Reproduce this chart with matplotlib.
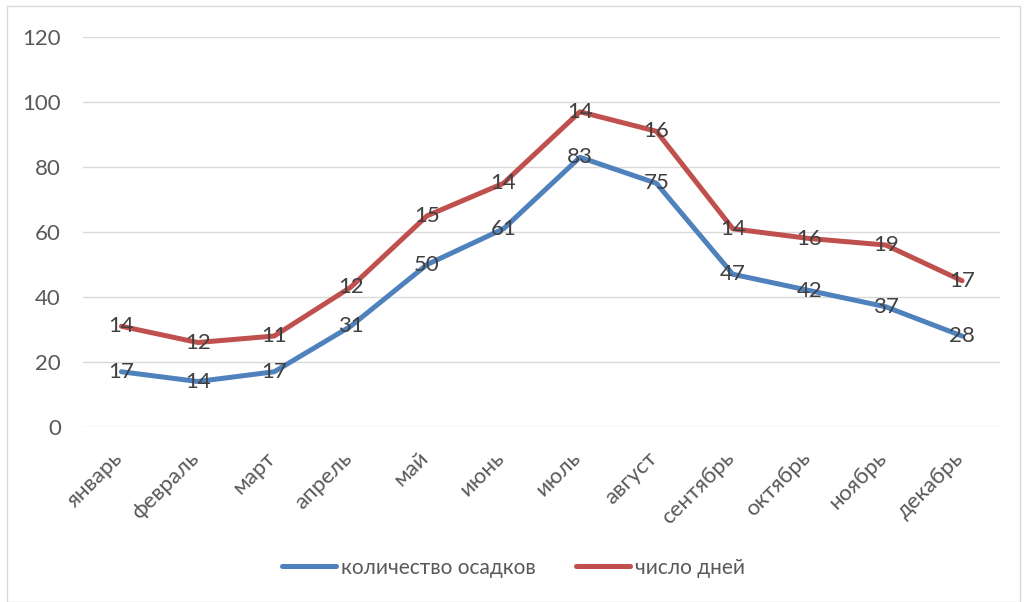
import matplotlib.pyplot as plt
import numpy as np
from matplotlib.patches import Rectangle
from matplotlib.transforms import ScaledTranslation

plt.rcParams['font.family'] = ['Lato', 'DejaVu Sans']

months = ['январь', 'февраль', 'март', 'апрель', 'май', 'июнь', 'июль',
          'август', 'сентябрь', 'октябрь', 'ноябрь', 'декабрь']
precip = [17, 14, 17, 31, 50, 61, 83, 75, 47, 42, 37, 28]
days = [14, 12, 11, 12, 15, 14, 14, 16, 14, 16, 19, 17]

blue = '#4F81BD'
red = '#C0504D'

x = np.arange(len(months))
stacked = np.array(precip) + np.array(days)

fig = plt.figure(figsize=(10.27, 6.02), dpi=100)
ax = fig.add_axes([0.081, 0.2907, 0.893, 0.6478])

# рамка диаграммы
fig.patches.append(Rectangle((0.007, 0.0), 0.986, 0.99, transform=fig.transFigure,
                             fill=False, edgecolor='#D9D9D9', linewidth=1))

ax.plot(x, precip, color=blue, linewidth=3.6, solid_capstyle='round',
        label='количество осадков', zorder=3)
ax.plot(x, stacked, color=red, linewidth=3.6, solid_capstyle='round',
        label='число дней', zorder=3)

for i in range(len(months)):
    ax.text(x[i], precip[i], str(precip[i]), ha='center', va='center',
            fontsize=16, color='#404040', zorder=4)
    ax.text(x[i], stacked[i], str(days[i]), ha='center', va='center',
            fontsize=16, color='#404040', zorder=4)

ax.set_xlim(-0.5, len(months) - 0.5)
ax.set_ylim(0, 120)
ax.set_yticks(range(0, 121, 20))
ax.grid(axis='y', color='#D9D9D9', linewidth=1)
ax.set_axisbelow(True)
for s in ax.spines.values():
    s.set_visible(False)
ax.tick_params(axis='both', length=0, labelsize=16, colors='#595959')
ax.tick_params(axis='y', pad=16)
ax.set_xticks(x)
ax.set_xticklabels(months, rotation=45, ha='right')
ax.tick_params(axis='x', pad=15)
# немного сдвинуть подписи месяцев вправо
shift = ScaledTranslation(5 / 100, 0, fig.dpi_scale_trans)
for lbl in ax.get_xticklabels():
    lbl.set_transform(lbl.get_transform() + shift)

fig.legend(loc='center', bbox_to_anchor=(0.5, 0.057), ncol=2, frameon=False,
           fontsize=15, labelcolor='#595959', handlelength=2.6, handletextpad=0.25,
           columnspacing=1.9)

plt.savefig('out.png', dpi=100)
